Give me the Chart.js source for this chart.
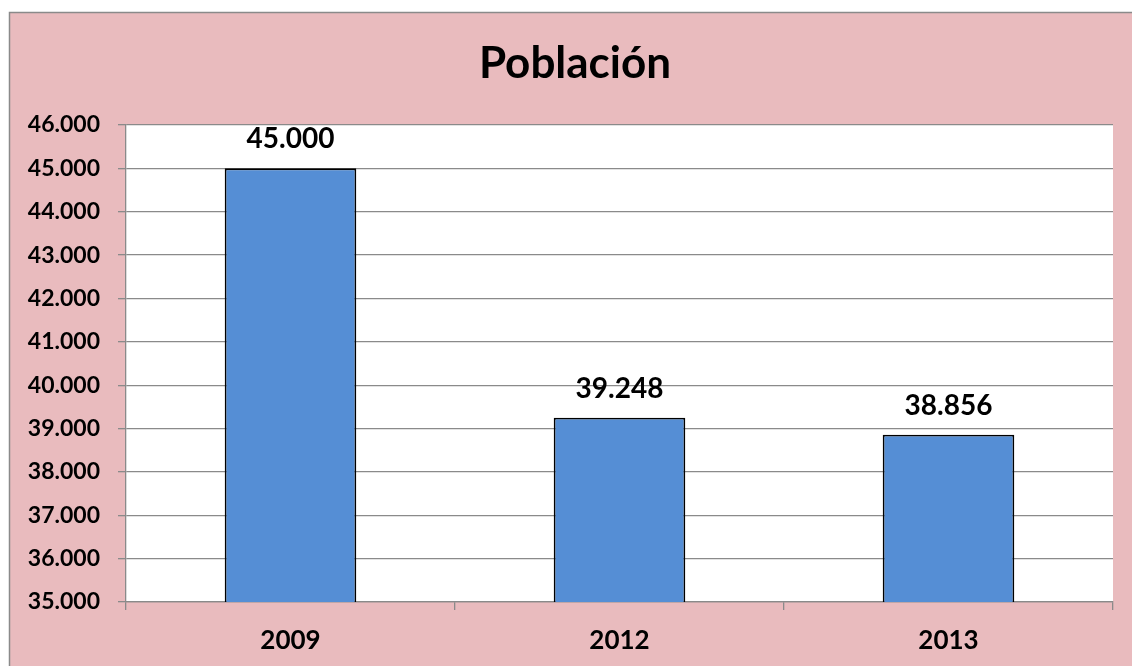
<!DOCTYPE html>
<html>
<head>
<meta charset="utf-8">
<script src="https://cdn.jsdelivr.net/npm/chart.js@4"></script>
<style>
  body { margin: 0; background: #ffffff; }
  #wrap { width: 1132px; height: 666px; }
</style>
</head>
<body>
<div id="wrap"><canvas id="poblacionChart" width="1132" height="666"></canvas></div>
<script>
// Data
var years = ['2009', '2012', '2013'];
var population = [45000, 39248, 38856];
var yMin = 35000;
var yMax = 46000;
var yStep = 1000;
var chartTitle = 'Población';

var FONT = 'Lato, "Open Sans", sans-serif';

// format with dot thousands separator (45.000)
function fmt(v) {
    return Math.round(v).toString().replace(/\B(?=(\d{3})+(?!\d))/g, '.');
}

// Pink frame, white plot area, title
var backgroundPlugin = {
    id: 'backgroundPlugin',
    beforeDraw: function (chart) {
        var ctx = chart.ctx;
        var a = chart.chartArea;
        ctx.save();
        ctx.fillStyle = '#ffffff';
        ctx.fillRect(0, 0, chart.width, chart.height);
        ctx.fillStyle = '#e9bbbe';
        ctx.fillRect(9, 12, chart.width - 9, chart.height - 12);
        ctx.strokeStyle = '#8a8a8a';
        ctx.lineWidth = 1.5;
        ctx.strokeRect(9.5, 12.5, chart.width, chart.height);
        ctx.fillStyle = '#ffffff';
        ctx.fillRect(a.left, a.top, a.right - a.left, a.bottom - a.top);
        ctx.fillStyle = '#000000';
        ctx.font = 'bold 44px ' + FONT;
        ctx.textAlign = 'center';
        ctx.textBaseline = 'middle';
        ctx.fillText(chartTitle, 575, 64);
        ctx.restore();
    }
};

// Value labels above the bars
var valueLabels = {
    id: 'valueLabels',
    afterDatasetsDraw: function (chart) {
        var ctx = chart.ctx;
        var meta = chart.getDatasetMeta(0);
        ctx.save();
        ctx.fillStyle = '#000000';
        ctx.font = 'bold 28px ' + FONT;
        ctx.textAlign = 'center';
        ctx.textBaseline = 'bottom';
        meta.data.forEach(function (bar, i) {
            ctx.fillText(fmt(population[i]), bar.x, bar.y - 15);
        });
        ctx.restore();
    }
};

var ctx = document.getElementById('poblacionChart');
var chart = new Chart(ctx, {
    type: 'bar',
    data: {
        labels: years,
        datasets: [{
            label: 'Población',
            data: population,
            backgroundColor: '#558ed5',
            borderColor: '#000000',
            borderWidth: 1.8,
            barPercentage: 0.4,
            categoryPercentage: 1.0
        }]
    },
    options: {
        responsive: false,
        animation: false,
        layout: {
            padding: { left: 0, top: 125, right: 19, bottom: 0 }
        },
        plugins: {
            legend: { display: false },
            title: { display: false },
            tooltip: { enabled: false }
        },
        scales: {
            x: {
                afterFit: function (scale) { scale.height = 64; },
                grid: {
                    offset: true,
                    drawOnChartArea: false,
                    tickLength: 8,
                    color: '#8a8a8a',
                    lineWidth: 1.3
                },
                border: { color: '#8a8a8a', width: 1.3 },
                ticks: {
                    color: '#000000',
                    padding: 15,
                    font: { family: FONT, size: 26, weight: 'bold' }
                }
            },
            y: {
                min: yMin,
                max: yMax,
                afterFit: function (scale) { scale.width = 126; },
                grid: {
                    color: '#8a8a8a',
                    lineWidth: 1.3,
                    tickLength: 8
                },
                border: { color: '#8a8a8a', width: 1.3 },
                ticks: {
                    stepSize: yStep,
                    color: '#000000',
                    padding: 18,
                    font: { family: FONT, size: 23, weight: 'bold' },
                    callback: function (value) { return fmt(value); }
                }
            }
        }
    },
    plugins: [backgroundPlugin, valueLabels]
});
</script>
</body>
</html>
